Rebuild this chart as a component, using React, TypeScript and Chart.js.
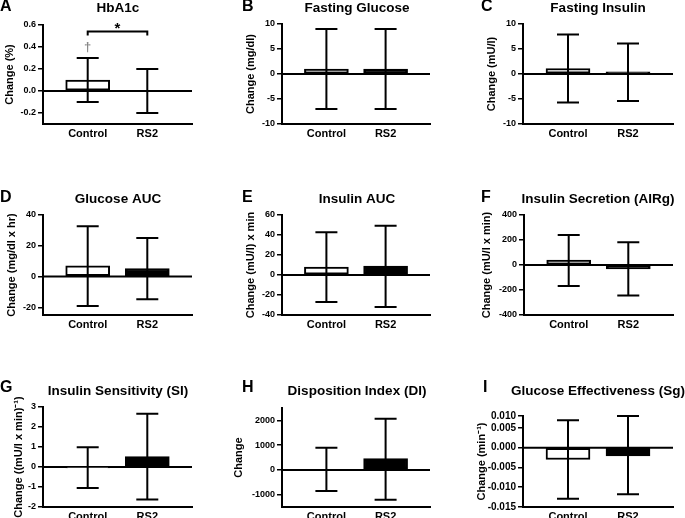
import React, { useEffect, useRef } from "react";
import { Chart, registerables } from "chart.js";

Chart.register(...registerables);

// ---------- data ----------
const categories = ["Control", "RS2"];
const panelLetters = ["A", "B", "C", "D", "E", "F", "G", "H", "I"];
const panelTitles = [
  "HbA1c",
  "Fasting Glucose",
  "Fasting Insulin",
  "Glucose AUC",
  "Insulin AUC",
  "Insulin Secretion (AIRg)",
  "Insulin Sensitivity (SI)",
  "Disposition Index (DI)",
  "Glucose Effectiveness (Sg)",
];
const yAxisTitles = [
  "Change (%)",
  "Change (mg/dl)",
  "Change (mU/l)",
  "Change (mg/dl x hr)",
  "Change (mU/l) x min",
  "Change (mU/l x min)",
  "Change ((mU/l x min)\u207B\u00B9)",
  "Change",
  "Change (min\u207B\u00B9)",
];
const controlMeans = [0.1, 1.0, 1.1, 7, 8, 40, -0.05, 0, -0.003];
const controlUpper = [0.3, 9, 7.9, 32.7, 42.7, 241, 0.99, 896, 0.0069];
const controlLower = [-0.1, -7, -5.7, -19.1, -27, -167, -1.05, -855, -0.0129];
const rs2Means = [0.0, 1.0, 0.45, 5.2, 9, -32, 0.52, 454, -0.0021];
const rs2Upper = [0.2, 9, 6.1, 25.1, 49.3, 183, 2.66, 2068, 0.008];
const rs2Lower = [-0.2, -7, -5.4, -14.8, -32, -244, -1.63, -1205, -0.0118];
const yMins = [-0.3, -10, -10, -25, -40, -400, -2, -1500, -0.015];
const yMaxs = [0.6, 10, 10, 40, 60, 400, 3, 2500, 0.008];
const yTickValues = [
  [-0.2, 0, 0.2, 0.4, 0.6],
  [-10, -5, 0, 5, 10],
  [-10, -5, 0, 5, 10],
  [-20, 0, 20, 40],
  [-40, -20, 0, 20, 40, 60],
  [-400, -200, 0, 200, 400],
  [-2, -1, 0, 1, 2, 3],
  [-1000, 0, 1000, 2000],
  [-0.015, -0.01, -0.005, 0, 0.005, 0.008],
];
const yTickLabels = [
  ["-0.2", "0.0", "0.2", "0.4", "0.6"],
  ["-10", "-5", "0", "5", "10"],
  ["-10", "-5", "0", "5", "10"],
  ["-20", "0", "20", "40"],
  ["-40", "-20", "0", "20", "40", "60"],
  ["-400", "-200", "0", "200", "400"],
  ["-2", "-1", "0", "1", "2", "3"],
  ["-1000", "0", "1000", "2000"],
  ["-0.015", "-0.010", "-0.005", "0.000", "0.005", "0.010"],
];

// ---------- layout / style ----------
const colX0 = [0, 228, 458];
const colW = [228, 230, 227];
const rowY0 = [0, 170, 345];
const rowH = [170, 175, 173];
const panelAxisX = [43, 282, 523, 43, 282, 524, 43, 282, 523];
const panelRightX = [192, 430, 673, 192, 430, 673, 192, 430, 673];
const panelTop = [25, 24, 24, 215, 215, 215, 407, 408, 416];
const panelBottom = [124, 124, 124, 315, 315, 315, 507, 507, 507];
const yTitleCenterX = [10, 251, 492, 12, 251, 487, 19, 239, 482];
const letterX = [0, 242, 481, 0, 242, 481, 0, 242, 483];
const letterY = [7, 7, 7, 198, 198, 198, 388, 388, 388];
const titleX = [118, 357, 598, 118, 357, 598, 118, 357, 598];
const titleY = [8, 8, 8, 199, 199, 199, 391, 391, 391];
const tickFontSizes = [9, 9, 9, 9, 9, 9, 9, 9, 10];

const FONT = "'Liberation Sans', Arial, Helvetica, sans-serif";

function Panel({ i }: { i: number }) {
  const ref = useRef<HTMLCanvasElement | null>(null);
  const col = i % 3;
  const row = Math.floor(i / 3);
  const x0 = colX0[col];
  const y0 = rowY0[row];
  const w = colW[col];
  const h = rowH[row];

  useEffect(() => {
    if (!ref.current) return;
    const yTitleSize = 11;
    const decor = {
      id: "panelDecor",
      beforeDatasetsDraw(chart: any) {
        const { ctx, chartArea, scales } = chart;
        const zy = scales.y.getPixelForValue(0);
        ctx.save();
        ctx.strokeStyle = "#000";
        ctx.lineWidth = 2;
        ctx.beginPath();
        ctx.moveTo(chartArea.left, zy);
        ctx.lineTo(chartArea.right, zy);
        ctx.stroke();
        ctx.restore();
      },
      afterDatasetsDraw(chart: any) {
        const { ctx, scales } = chart;
        const ups = [controlUpper[i], rs2Upper[i]];
        const los = [controlLower[i], rs2Lower[i]];
        ctx.save();
        ctx.strokeStyle = "#000";
        ctx.lineWidth = 2;
        for (let k = 0; k < 2; k++) {
          const cx = scales.x.getPixelForValue(k);
          const yu = scales.y.getPixelForValue(ups[k]);
          const yl = scales.y.getPixelForValue(los[k]);
          ctx.beginPath();
          ctx.moveTo(cx, yu);
          ctx.lineTo(cx, yl);
          ctx.moveTo(cx - 11, yu);
          ctx.lineTo(cx + 11, yu);
          ctx.moveTo(cx - 11, yl);
          ctx.lineTo(cx + 11, yl);
          ctx.stroke();
        }
        ctx.restore();
      },
      afterDraw(chart: any) {
        const { ctx, scales } = chart;
        ctx.save();
        ctx.fillStyle = "#000";
        ctx.textBaseline = "middle";
        ctx.textAlign = "left";
        ctx.font = `bold 16px ${FONT}`;
        ctx.fillText(panelLetters[i], letterX[i] - x0, letterY[i] - y0);
        ctx.textAlign = "center";
        ctx.font = `bold 13.5px ${FONT}`;
        ctx.fillText(panelTitles[i], titleX[i] - x0, titleY[i] - y0);
        if (i === 0) {
          const x1 = scales.x.getPixelForValue(0);
          const x2 = scales.x.getPixelForValue(1);
          const by = scales.y.getPixelForValue(0.54);
          ctx.strokeStyle = "#000";
          ctx.lineWidth = 2;
          ctx.beginPath();
          ctx.moveTo(x1, by + 4);
          ctx.lineTo(x1, by);
          ctx.lineTo(x2, by);
          ctx.lineTo(x2, by + 4);
          ctx.stroke();
          ctx.textBaseline = "alphabetic";
          ctx.font = `bold 15px ${FONT}`;
          ctx.fillText("*", (x1 + x2) / 2, by + 1);
          ctx.fillStyle = "#888";
          ctx.font = `bold 13px ${FONT}`;
          ctx.fillText("\u2020", x1, scales.y.getPixelForValue(0.36));
        }
        ctx.restore();
      },
    };

    const chart = new Chart(ref.current, {
      type: "bar",
      data: {
        datasets: [
          {
            data: [
              { x: 0, y: controlMeans[i] },
              { x: 1, y: rs2Means[i] },
            ],
            backgroundColor: ["#ffffff", "#000000"],
            borderColor: "#000000",
            borderWidth: 2,
            borderSkipped: false,
            barThickness: 44,
          } as any,
        ],
      },
      options: {
        responsive: false,
        animation: false,
        devicePixelRatio: 1,
        layout: {
          padding: {
            left: 0,
            top: panelTop[i] - y0,
            right: x0 + w - panelRightX[i],
            bottom: 0,
          },
        },
        plugins: {
          legend: { display: false },
          tooltip: { enabled: false },
          title: { display: false },
        },
        scales: {
          x: {
            type: "linear",
            min: -0.75,
            max: 1.75,
            offset: false,
            grid: { display: false, drawTicks: false, offset: false },
            border: { display: true, color: "#000", width: 2 },
            ticks: {
              color: "#000",
              font: { family: FONT, size: 11, weight: "bold" },
              padding: 3,
              maxRotation: 0,
              autoSkip: false,
              callback: (v: any) => categories[v] ?? "",
            },
            afterBuildTicks: (s: any) => {
              s.ticks = categories.map((_, k) => ({ value: k }));
            },
            afterFit: (s: any) => {
              s.height = y0 + h - panelBottom[i];
            },
          } as any,
          y: {
            type: "linear",
            min: yMins[i],
            max: yMaxs[i],
            grid: {
              drawOnChartArea: false,
              drawTicks: true,
              tickLength: 5,
              color: "#000",
              lineWidth: 1.5,
            },
            border: { display: true, color: "#000", width: 2 },
            ticks: {
              color: "#000",
              font: { family: FONT, size: tickFontSizes[i], weight: "bold" },
              padding: 2,
              autoSkip: false,
              callback: (v: any) => {
                const idx = yTickValues[i].findIndex((t) => Math.abs(t - v) < 1e-9);
                return idx >= 0 ? yTickLabels[i][idx] : "";
              },
            },
            afterBuildTicks: (s: any) => {
              s.ticks = yTickValues[i].map((v) => ({ value: v }));
            },
            afterFit: (s: any) => {
              s.width = panelAxisX[i] - x0;
            },
            title: {
              display: true,
              text: yAxisTitles[i],
              color: "#000",
              font: { family: FONT, size: yTitleSize, weight: "bold" },
              padding: { top: yTitleCenterX[i] - x0 - yTitleSize * 0.6, bottom: 0 },
            },
          } as any,
        },
      },
      plugins: [decor],
    } as any);
    return () => chart.destroy();
  }, [i]);

  return (
    <canvas
      ref={ref}
      width={w}
      height={h}
      style={{ position: "absolute", left: x0, top: y0, width: w, height: h }}
    />
  );
}

export default function App() {
  return (
    <div
      style={{
        position: "absolute",
        left: 0,
        top: 0,
        width: 685,
        height: 518,
        background: "#fff",
        overflow: "hidden",
      }}
    >
      {panelLetters.map((_, i) => (
        <Panel key={i} i={i} />
      ))}
    </div>
  );
}
